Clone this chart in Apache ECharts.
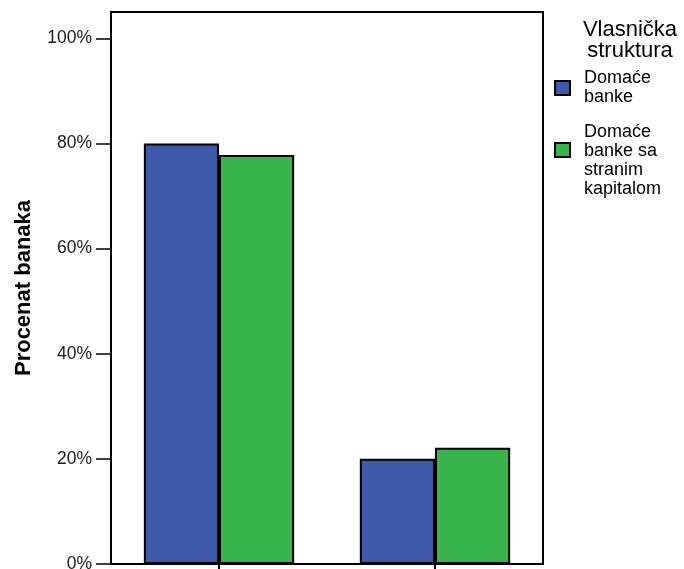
<!DOCTYPE html>
<html>
<head>
<meta charset="utf-8">
<script src="https://cdn.jsdelivr.net/npm/echarts@6/dist/echarts.min.js"></script>
<style>html,body{margin:0;padding:0;background:#fff;}#c{width:684px;height:569px;}</style>
</head>
<body>
<div id="c"></div>
<script>
const categories = ['Cat A', 'Cat B'];
const seriesNames = ['Domaće\nbanke', 'Domaće\nbanke sa\nstranim\nkapitalom'];
const domaceBanke = [80.0, 20.0];
const domaceStranim = [77.8, 22.1];
const yTicks = [0, 20, 40, 60, 80, 100];
const legendTitle = 'Vlasnička\nstruktura';
const yAxisTitle = 'Procenat banaka';

const chart = echarts.init(document.getElementById('c'), null, {renderer: 'canvas'});
const font = 'Liberation Sans, Arial, sans-serif';
chart.setOption({
  animation: false,
  backgroundColor: '#fff',
  title: {
    text: legendTitle,
    left: 630, top: 19,
    padding: 0,
    textAlign: 'center',
    textStyle: {fontFamily: font, fontSize: 22, fontWeight: 'normal', color: '#000', lineHeight: 21}
  },
  legend: {
    orient: 'vertical',
    left: 554, top: 69,
    padding: 0,
    itemWidth: 15, itemHeight: 14,
    itemGap: -6,
    icon: 'rect',
    formatter: name => name === seriesNames[1] ? '{sp| }\n' + name : name,
    textStyle: {
      fontFamily: font, fontSize: 18, color: '#000', lineHeight: 19, padding: [0, 0, 0, 9],
      rich: {sp: {fontSize: 18, lineHeight: 22, height: 22}}
    },
    data: seriesNames,
    selectedMode: false
  },
  grid: {
    left: 111, right: 141, top: 12, bottom: 5,
    outerBoundsMode: 'none',
    show: true, borderColor: '#000', borderWidth: 2,
    containLabel: false
  },
  xAxis: {
    type: 'category',
    data: categories,
    axisLine: {lineStyle: {color: '#000', width: 2}},
    axisTick: {show: true, alignWithLabel: true, length: 6, lineStyle: {color: '#000', width: 2}},
    axisLabel: {show: false}
  },
  yAxis: {
    type: 'value',
    min: 0, max: 105,
    name: yAxisTitle,
    nameLocation: 'middle',
    nameGap: 76,
    nameTextStyle: {fontFamily: 'Liberation Sans Narrow, Liberation Sans, Arial, sans-serif', fontSize: 22, fontWeight: 'bold', color: '#000'},
    splitLine: {show: false},
    axisLine: {show: true, lineStyle: {color: '#000', width: 2}},
    axisTick: {show: true, length: 15, customValues: yTicks, lineStyle: {color: '#000', width: 1.5}},
    axisLabel: {customValues: yTicks, formatter: v => v + '%', fontFamily: font, fontSize: 17.5, color: '#1a1a1a', margin: 19}
  },
  series: [
    {
      name: seriesNames[0], type: 'bar', data: domaceBanke,
      barGap: '0%', barCategoryGap: '30.4%',
      itemStyle: {color: '#3E59A8', borderColor: '#000', borderWidth: 2}
    },
    {
      name: seriesNames[1], type: 'bar', data: domaceStranim,
      itemStyle: {color: '#39B44A', borderColor: '#000', borderWidth: 2}
    }
  ]
});
</script>
</body>
</html>
